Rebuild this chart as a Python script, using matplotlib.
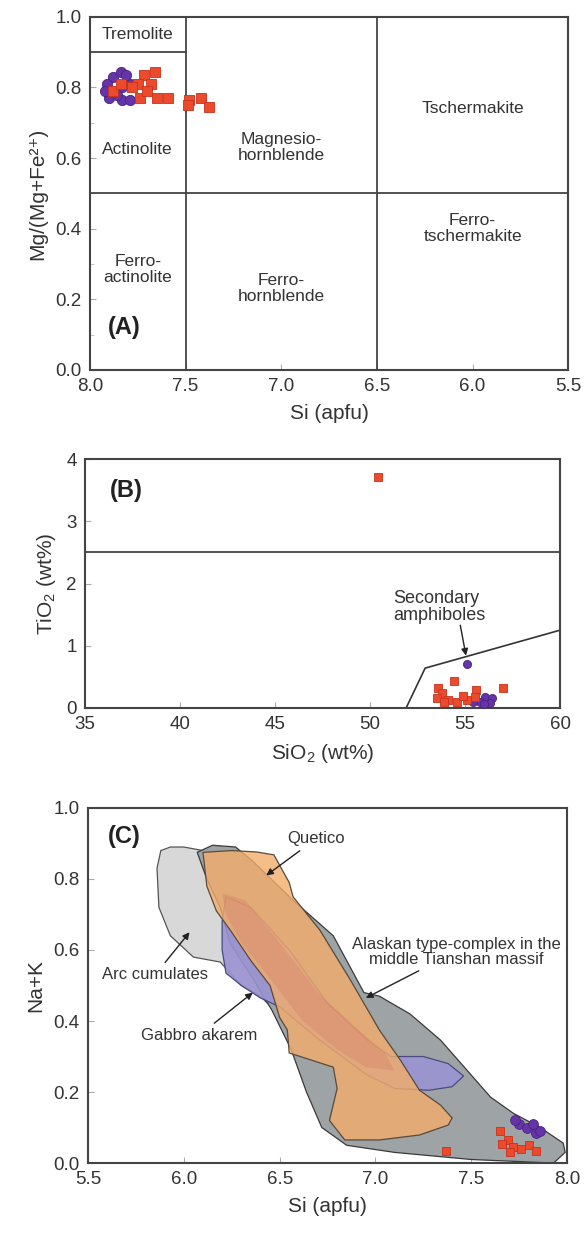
import matplotlib.pyplot as plt
from matplotlib.patches import Polygon

plt.rcParams['font.family'] = ['Liberation Sans', 'DejaVu Sans']
plt.rcParams['mathtext.fontset'] = 'custom'
plt.rcParams['mathtext.rm'] = 'Liberation Sans'

TXT = '#333333'
EDGE = '#444444'

# ---- panel A: amphibole classification ----
a_red_si = [7.66, 7.72, 7.68, 7.75, 7.74, 7.65, 7.59, 7.88, 7.84, 7.70, 7.48, 7.42, 7.38, 7.49, 7.78]
a_red_mg = [0.844, 0.836, 0.81, 0.81, 0.77, 0.77, 0.77, 0.79, 0.81, 0.79, 0.765, 0.77, 0.745, 0.75, 0.80]
a_pur_si = [7.88, 7.84, 7.91, 7.90, 7.83, 7.79, 7.83, 7.79, 7.86, 7.92, 7.81]
a_pur_mg = [0.83, 0.845, 0.81, 0.77, 0.765, 0.765, 0.80, 0.81, 0.78, 0.79, 0.835]

a_labels = ["Tremolite", "Actinolite", "Magnesio-\nhornblende", "Tschermakite",
            "Ferro-\nactinolite", "Ferro-\nhornblende", "Ferro-\ntschermakite"]
a_label_si = [7.75, 7.75, 7.0, 6.0, 7.75, 7.0, 6.0]
a_label_mg = [0.95, 0.625, 0.63, 0.74, 0.285, 0.23, 0.40]

# ---- panel B: TiO2 vs SiO2 ----
b_red_sio2 = [50.4, 54.4, 53.6, 53.8, 53.5, 54.1, 54.6, 55.1, 55.6, 55.5, 57.0, 53.9, 54.9]
b_red_tio2 = [3.71, 0.43, 0.32, 0.24, 0.16, 0.13, 0.10, 0.13, 0.29, 0.18, 0.32, 0.10, 0.20]
b_pur_sio2 = [55.1, 56.05, 56.4, 56.3, 55.8, 55.4, 56.0]
b_pur_tio2 = [0.71, 0.18, 0.16, 0.08, 0.10, 0.10, 0.06]
b_line_sio2 = [51.9, 52.9, 60.0]
b_line_tio2 = [0.0, 0.64, 1.25]

# ---- panel C: Na+K vs Si fields ----
arc_si = [5.88, 5.93, 6.00, 6.10, 6.20, 6.30, 6.45, 6.60, 6.62, 6.49, 6.40, 6.30, 6.19, 6.05, 5.93, 5.87, 5.86]
arc_nak = [0.88, 0.89, 0.89, 0.88, 0.80, 0.70, 0.58, 0.45, 0.38, 0.42, 0.47, 0.50, 0.566, 0.58, 0.64, 0.72, 0.83]

alaska_si = [6.07, 6.15, 6.27, 6.36, 6.57, 6.78, 6.94, 7.02, 7.18, 7.34, 7.48, 7.60, 7.72, 7.86, 7.98, 7.99,
             7.93, 7.50, 7.10, 6.85, 6.72, 6.64, 6.56, 6.46, 6.36, 6.24, 6.19, 6.12]
alaska_nak = [0.875, 0.895, 0.89, 0.85, 0.74, 0.64, 0.48, 0.47, 0.42, 0.346, 0.26, 0.186, 0.14, 0.10, 0.056, 0.03,
              0.0, 0.01, 0.03, 0.05, 0.10, 0.20, 0.32, 0.43, 0.52, 0.62, 0.72, 0.80]

gabbro_si = [6.22, 6.35, 6.55, 6.75, 6.95, 7.08, 7.25, 7.38, 7.46, 7.40, 7.28, 7.10, 6.95, 6.70, 6.50,
             6.40, 6.30, 6.22, 6.20, 6.20]
gabbro_nak = [0.75, 0.72, 0.60, 0.45, 0.35, 0.30, 0.30, 0.28, 0.245, 0.215, 0.205, 0.21, 0.25, 0.35, 0.44,
              0.465, 0.50, 0.535, 0.60, 0.68]

quetico_si = [6.10, 6.25, 6.38, 6.47, 6.55, 6.57, 6.71, 6.87, 7.02, 7.13, 7.23, 7.34, 7.40, 7.38, 7.23, 7.02,
              6.84, 6.76, 6.80, 6.78, 6.55, 6.54, 6.50, 6.45, 6.35, 6.25, 6.17, 6.12]
quetico_nak = [0.875, 0.88, 0.876, 0.868, 0.79, 0.75, 0.656, 0.515, 0.375, 0.29, 0.205, 0.163, 0.127, 0.107,
               0.079, 0.065, 0.065, 0.12, 0.21, 0.27, 0.31, 0.375, 0.41, 0.50, 0.57, 0.65, 0.71, 0.78]

quetico_core_si = [6.20, 6.32, 6.50, 6.70, 6.90, 7.05, 7.10, 6.95, 6.80, 6.62, 6.45, 6.30, 6.22]
quetico_core_nak = [0.76, 0.74, 0.62, 0.48, 0.38, 0.31, 0.26, 0.27, 0.32, 0.40, 0.52, 0.62, 0.70]

c_red_si = [7.37, 7.65, 7.69, 7.72, 7.76, 7.80, 7.70, 7.84, 7.66]
c_red_nak = [0.035, 0.09, 0.065, 0.045, 0.04, 0.05, 0.03, 0.035, 0.055]
c_pur_si = [7.75, 7.84, 7.79, 7.73, 7.82, 7.86]
c_pur_nak = [0.11, 0.085, 0.10, 0.12, 0.11, 0.09]

RED = '#ec4a2c'
RED_E = '#c8321c'
PUR = '#6534a8'
PUR_E = '#4a2480'

fig = plt.figure(figsize=(5.84, 12.39), dpi=100)


def style(ax):
    for s in ax.spines.values():
        s.set_color(EDGE)
        s.set_linewidth(1.5)
    ax.tick_params(direction='in', length=4, color='#aaaaaa', labelcolor=TXT, labelsize=13.5, pad=6)
    ax.tick_params(which='minor', direction='in', length=3, color='#bbbbbb')


# Panel A
ax = fig.add_axes([0.154, 0.7014, 0.819, 0.285])
ax.set_xlim(8.0, 5.5)
ax.set_ylim(0, 1.0)
ax.set_xticks([8.0, 7.5, 7.0, 6.5, 6.0, 5.5])
ax.set_xticklabels(['8.0', '7.5', '7.0', '6.5', '6.0', '5.5'])
ax.set_yticks([0.0, 0.2, 0.4, 0.6, 0.8, 1.0])
ax.set_yticklabels(['0.0', '0.2', '0.4', '0.6', '0.8', '1.0'])
ax.set_yticks([0.1, 0.3, 0.5, 0.7, 0.9], minor=True)
style(ax)
ax.axvline(7.5, color=EDGE, lw=1.3)
ax.axvline(6.5, color=EDGE, lw=1.3)
ax.axhline(0.5, color=EDGE, lw=1.3)
ax.plot([8.0, 7.5], [0.9, 0.9], color=EDGE, lw=1.3)
for t, x, y in zip(a_labels, a_label_si, a_label_mg):
    ax.text(x, y, t, ha='center', va='center', fontsize=12.5, color=TXT, linespacing=1.1)
ax.text(7.82, 0.12, '(A)', fontsize=17, fontweight='bold', color='#222222', ha='center', va='center')
ax.scatter(a_pur_si, a_pur_mg, s=55, marker='o', color=PUR, edgecolor=PUR_E, lw=0.6, zorder=3)
ax.scatter(a_red_si, a_red_mg, s=50, marker='s', color=RED, edgecolor=RED_E, lw=0.6, zorder=4)
ax.set_xlabel('Si (apfu)', fontsize=15, color=TXT, labelpad=6)
ax.set_ylabel('Mg/(Mg+Fe²⁺)', fontsize=15, color=TXT, labelpad=6)

# Panel B
ax = fig.add_axes([0.1455, 0.4286, 0.8135, 0.2009])
ax.set_xlim(35, 60)
ax.set_ylim(0, 4)
ax.set_xticks([35, 40, 45, 50, 55, 60])
ax.set_yticks([0, 1, 2, 3, 4])
style(ax)
ax.axhline(2.5, color=EDGE, lw=1.3)
ax.plot(b_line_sio2, b_line_tio2, color='#333333', lw=1.2)
ax.scatter(b_pur_sio2, b_pur_tio2, s=34, marker='o', color=PUR, edgecolor=PUR_E, lw=0.6, zorder=3)
ax.scatter(b_red_sio2, b_red_tio2, s=30, marker='s', color=RED, edgecolor=RED_E, lw=0.6, zorder=4)
ax.text(37.2, 3.5, '(B)', fontsize=17, fontweight='bold', color='#222222', ha='center', va='center')
ax.text(51.2, 1.62, 'Secondary\namphiboles', ha='left', va='center', fontsize=13, color=TXT, linespacing=1.0)
ax.annotate('', xy=(55.05, 0.84), xytext=(54.75, 1.33),
            arrowprops=dict(arrowstyle='-|>', color='#222222', lw=1.0, shrinkA=0, shrinkB=0,
                            mutation_scale=10))
ax.set_xlabel('SiO$_\\mathregular{2}$ (wt%)', fontsize=15, color=TXT, labelpad=6)
ax.set_ylabel('TiO$_\\mathregular{2}$ (wt%)', fontsize=15, color=TXT, labelpad=6)

# Panel C
ax = fig.add_axes([0.1507, 0.0613, 0.8203, 0.2866])
ax.set_xlim(5.5, 8.0)
ax.set_ylim(0, 1.0)
ax.set_xticks([5.5, 6.0, 6.5, 7.0, 7.5, 8.0])
ax.set_xticklabels(['5.5', '6.0', '6.5', '7.0', '7.5', '8.0'])
ax.set_yticks([0.0, 0.2, 0.4, 0.6, 0.8, 1.0])
ax.set_yticklabels(['0.0', '0.2', '0.4', '0.6', '0.8', '1.0'])
style(ax)

fields = [
    (arc_si, arc_nak, '#d8d8d8', 1.0, '#555555'),
    (alaska_si, alaska_nak, '#9ea3a6', 1.0, '#3a3a3a'),
    (gabbro_si, gabbro_nak, '#9b94d2', 0.9, '#4a4a80'),
    (quetico_si, quetico_nak, '#f3ad6a', 0.8, '#5a4a3a'),
    (quetico_core_si, quetico_core_nak, '#d8806a', 0.4, 'none'),
]
for i, (xs, ys, fc, al, ec) in enumerate(fields):
    poly = Polygon(list(zip(xs, ys)), closed=True, facecolor=fc, alpha=al, edgecolor='none', zorder=1 + i)
    ax.add_patch(poly)
    if ec != 'none':
        out = Polygon(list(zip(xs, ys)), closed=True, facecolor='none', edgecolor=ec, lw=0.9, zorder=1 + i)
        ax.add_patch(out)

ax.scatter(c_pur_si, c_pur_nak, s=50, marker='o', color=PUR, edgecolor=PUR_E, lw=0.6, zorder=8)
ax.scatter(c_red_si, c_red_nak, s=40, marker='s', color=RED, edgecolor=RED_E, lw=0.6, zorder=9)

arrow = dict(arrowstyle='-|>', color='#222222', lw=1.0, shrinkA=2, shrinkB=0, mutation_scale=10)
ax.text(5.604, 0.92, '(C)', fontsize=17, fontweight='bold', color='#222222', ha='left', va='center', zorder=10)
ax.annotate('Quetico', xy=(6.43, 0.81), xytext=(6.69, 0.913), ha='center', va='center',
            fontsize=12, color=TXT, arrowprops=arrow, zorder=10)
ax.annotate('Arc cumulates', xy=(6.03, 0.65), xytext=(5.85, 0.53), ha='center', va='center',
            fontsize=12, color=TXT, arrowprops=arrow, zorder=10)
ax.annotate('Gabbro akarem', xy=(6.36, 0.48), xytext=(6.08, 0.36), ha='center', va='center',
            fontsize=12, color=TXT, arrowprops=arrow, zorder=10)
ax.annotate('Alaskan type-complex in the\nmiddle Tianshan massif', xy=(6.95, 0.465), xytext=(7.42, 0.595),
            ha='center', va='center', fontsize=12, color=TXT, linespacing=1.0, arrowprops=arrow, zorder=10)
ax.set_xlabel('Si (apfu)', fontsize=15, color=TXT, labelpad=6)
ax.set_ylabel('Na+K', fontsize=15, color=TXT, labelpad=6)

fig.savefig('out.png', dpi=100)
